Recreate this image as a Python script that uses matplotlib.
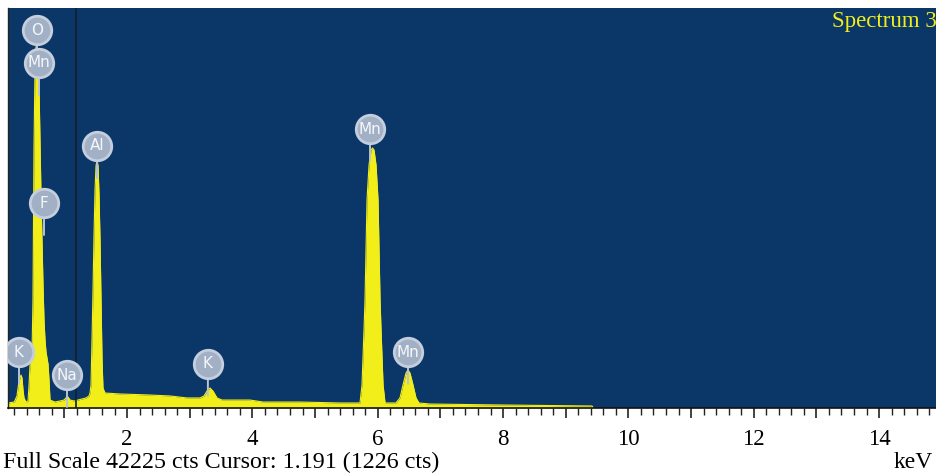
import matplotlib
matplotlib.use("Agg")
import matplotlib.pyplot as plt
from matplotlib.ticker import MultipleLocator, FixedLocator

# EDS spectrum outline: energy (keV) and counts
energy = [0.10, 0.20, 0.244, 0.276, 0.308, 0.324, 0.34, 0.356, 0.388, 0.42,
          0.436, 0.452, 0.468, 0.483, 0.499, 0.515, 0.531, 0.547, 0.563, 0.579,
          0.595, 0.611, 0.627, 0.643, 0.659, 0.675, 0.691, 0.707, 0.723, 0.739,
          0.755, 0.771, 0.85, 0.93, 0.994, 1.026, 1.042, 1.058, 1.09, 1.154,
          1.217, 1.281, 1.345, 1.393, 1.409, 1.425, 1.441, 1.457, 1.473, 1.489,
          1.505, 1.521, 1.537, 1.553, 1.569, 1.585, 1.601, 1.616, 1.648, 1.887,
          2.366, 2.686, 2.957, 3.164, 3.228, 3.276, 3.324, 3.371, 3.436, 3.515,
          3.962, 4.169, 4.76, 5.40, 5.717, 5.749, 5.781, 5.797, 5.829, 5.861,
          5.893, 5.917, 5.941, 5.973, 6.005, 6.037, 6.053, 6.085, 6.117, 6.29,
          6.355, 6.403, 6.451, 6.483, 6.515, 6.563, 6.611, 6.659, 6.834, 7.95,
          9.42, 9.44]
counts = [530, 630, 1270, 2850, 3480, 3170, 1900, 1060, 630, 740,
          2430, 4540, 5280, 5600, 11400, 27230, 35680, 38110, 38320, 37580,
          34100, 28290, 22480, 17730, 12980, 9290, 7180, 5910, 5280, 4640,
          2960, 840, 630, 740, 840, 1060, 1270, 1160, 840, 740,
          840, 950, 1060, 1270, 1580, 2430, 7180, 12460, 18260, 23010,
          25550, 26180, 25550, 22480, 17730, 11400, 5070, 2110, 1580, 1480,
          1370, 1270, 1060, 1060, 1270, 1790, 2110, 1790, 1060, 840,
          840, 630, 630, 530, 530, 2430, 8230, 11400, 21960, 25650,
          27230, 27450, 27230, 25650, 21960, 11400, 8230, 2430, 530, 530,
          1060, 2430, 3690, 4010, 3690, 2430, 1060, 530, 420, 320,
          210, 0]

# Peak identification badges
label_elements = ["K", "O", "Mn", "F", "Na", "Al", "K", "Mn", "Mn"]
label_energy = [0.276, 0.563, 0.595, 0.675, 1.042, 1.521, 3.29, 5.877, 6.483]
label_counts = [5910, 39900, 36420, 21640, 3480, 27660, 4645, 29450, 5910]

full_scale = 42225
cursor_kev = 1.191
cursor_cts = 1226
labeled_ticks = [2, 4, 6, 8, 10, 12, 14]
integer_ticks = list(range(1, 15))

W, H = 936, 473
fig = plt.figure(figsize=(W / 100, H / 100), dpi=100)
fig.patch.set_facecolor("white")
ax = fig.add_axes([8 / W, (H - 408) / H, 928 / W, 400 / H])

bg = "#0b3668"
yellow = "#f2ee1a"
ax.set_facecolor(bg)
ax.fill_between(energy, counts, 0, color=yellow, linewidth=0, zorder=2)
ax.plot(energy, counts, color=yellow, linewidth=0.8, zorder=2)
ax.axvline(cursor_kev, color="#14202c", linewidth=1.2, zorder=3)

ax.set_xlim(0.1005, 14.908)
ax.set_ylim(0, full_scale)

for s in ["top", "right"]:
    ax.spines[s].set_visible(False)
ax.spines["left"].set_color("#222222")
ax.spines["left"].set_linewidth(1.0)
ax.spines["bottom"].set_color("#111111")
ax.spines["bottom"].set_linewidth(1.2)
ax.set_yticks([])

ax.xaxis.set_major_locator(FixedLocator(integer_ticks))
ax.xaxis.set_minor_locator(MultipleLocator(0.2))
ax.set_xticklabels([str(t) if t in labeled_ticks else "" for t in integer_ticks])
ax.tick_params(axis="x", which="major", direction="out", length=7, width=1.2,
               color="#222222", pad=8, labelsize=16.5)
ax.tick_params(axis="x", which="minor", direction="out", length=5, width=1.0,
               color="#222222")
for lab in ax.get_xticklabels():
    lab.set_fontfamily("Liberation Serif")

# element badges with stems down to the peaks
for el, e, c in zip(label_elements, label_energy, label_counts):
    ax.annotate("", xy=(e, c), xytext=(0, -23), textcoords="offset points",
                arrowprops=dict(arrowstyle="-", color="#b8c4d6", lw=1.4,
                                shrinkA=0, shrinkB=0), zorder=5)
    ax.scatter([e], [c], s=420, facecolor="#a2b0c6", edgecolor="#c4cedd",
               linewidth=2.0, zorder=6)
    ax.text(e, c, el, color="#f4f6fa", fontsize=11, ha="center",
            va="center", family="DejaVu Sans", zorder=7)

fig.text(832 / W, 1 - 22 / H, "Spectrum 3", ha="left", va="center",
         color=yellow, fontsize=16.5, family="Liberation Serif")
fig.text(3 / W, 1 - 462 / H,
         f"Full Scale {full_scale} cts Cursor: {cursor_kev} ({cursor_cts} cts)",
         ha="left", va="center", fontsize=17.3, family="Liberation Serif",
         color="black")
fig.text(933 / W, 1 - 462 / H, "keV", ha="right", va="center", fontsize=17,
         family="Liberation Serif", color="black")

fig.savefig("out.png", dpi=100, facecolor=fig.get_facecolor())
